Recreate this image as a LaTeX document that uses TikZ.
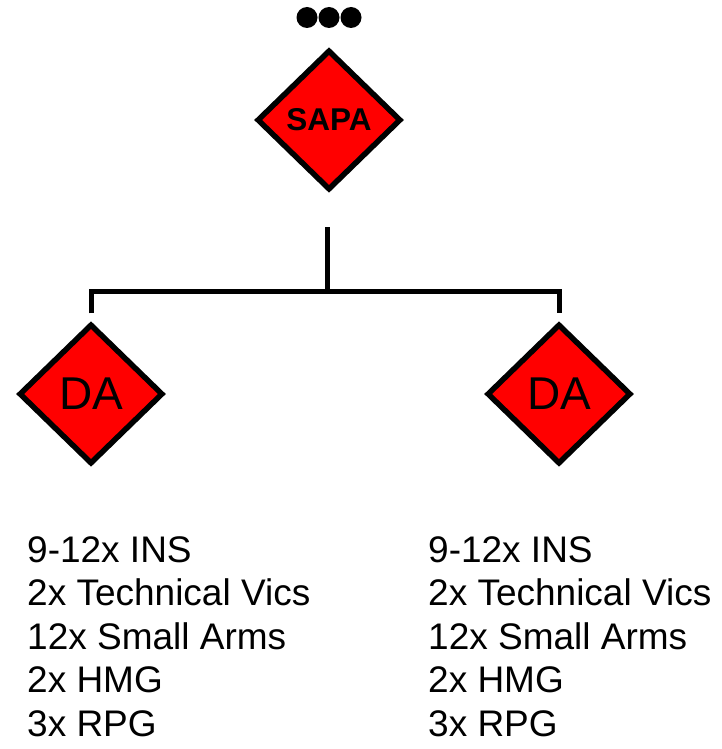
\documentclass[tikz,border=0pt]{standalone}
\usepackage{fontspec}
\setmainfont{Liberation Sans}
\usetikzlibrary{shapes.geometric}
\begin{document}
\begin{tikzpicture}[x=1pt, y=-1pt,
  unit/.style={diamond, draw=black, fill=red, line width=5.5pt, inner sep=0pt, minimum width=144pt, minimum height=140pt},
  dotmark/.style={circle, fill, inner sep=0pt, minimum size=21pt},
  item/.style={anchor=base west, inner sep=0pt, font=\fontsize{37}{42}\selectfont},
  link/.style={line width=5pt}]
\useasboundingbox (0,0) rectangle (721,749);
\node[dotmark] (dot1) at (307,17.5){};
\node[dotmark] (dot2) at (329,17.5){};
\node[dotmark] (dot3) at (351,17.5){};
\node[unit, font=\bfseries\fontsize{31.5}{34}\selectfont] (sapa) at (329,120){SAPA};
\node[unit, font=\fontsize{46}{50}\selectfont] (dal) at (91,394){DA};
\node[unit, font=\fontsize{46}{50}\selectfont] (dar) at (559,394){DA};
\coordinate (stem) at (327,227);
\coordinate (bus) at (327,291);
\draw[link](stem) -- (bus);
\draw[link]([yshift=8pt]dal.north) |- (bus) -| ([yshift=8pt]dar.north);
\foreach \t [count=\i] in {9-12x INS, 2x Technical Vics, 12x Small Arms, 2x HMG, 3x RPG}{
\node[item] (l\i) at (27,518.5+43.5*\i){\t};
\node[item] (r\i) at (428,518.5+43.5*\i){\t};
}
\end{tikzpicture}
\end{document}
